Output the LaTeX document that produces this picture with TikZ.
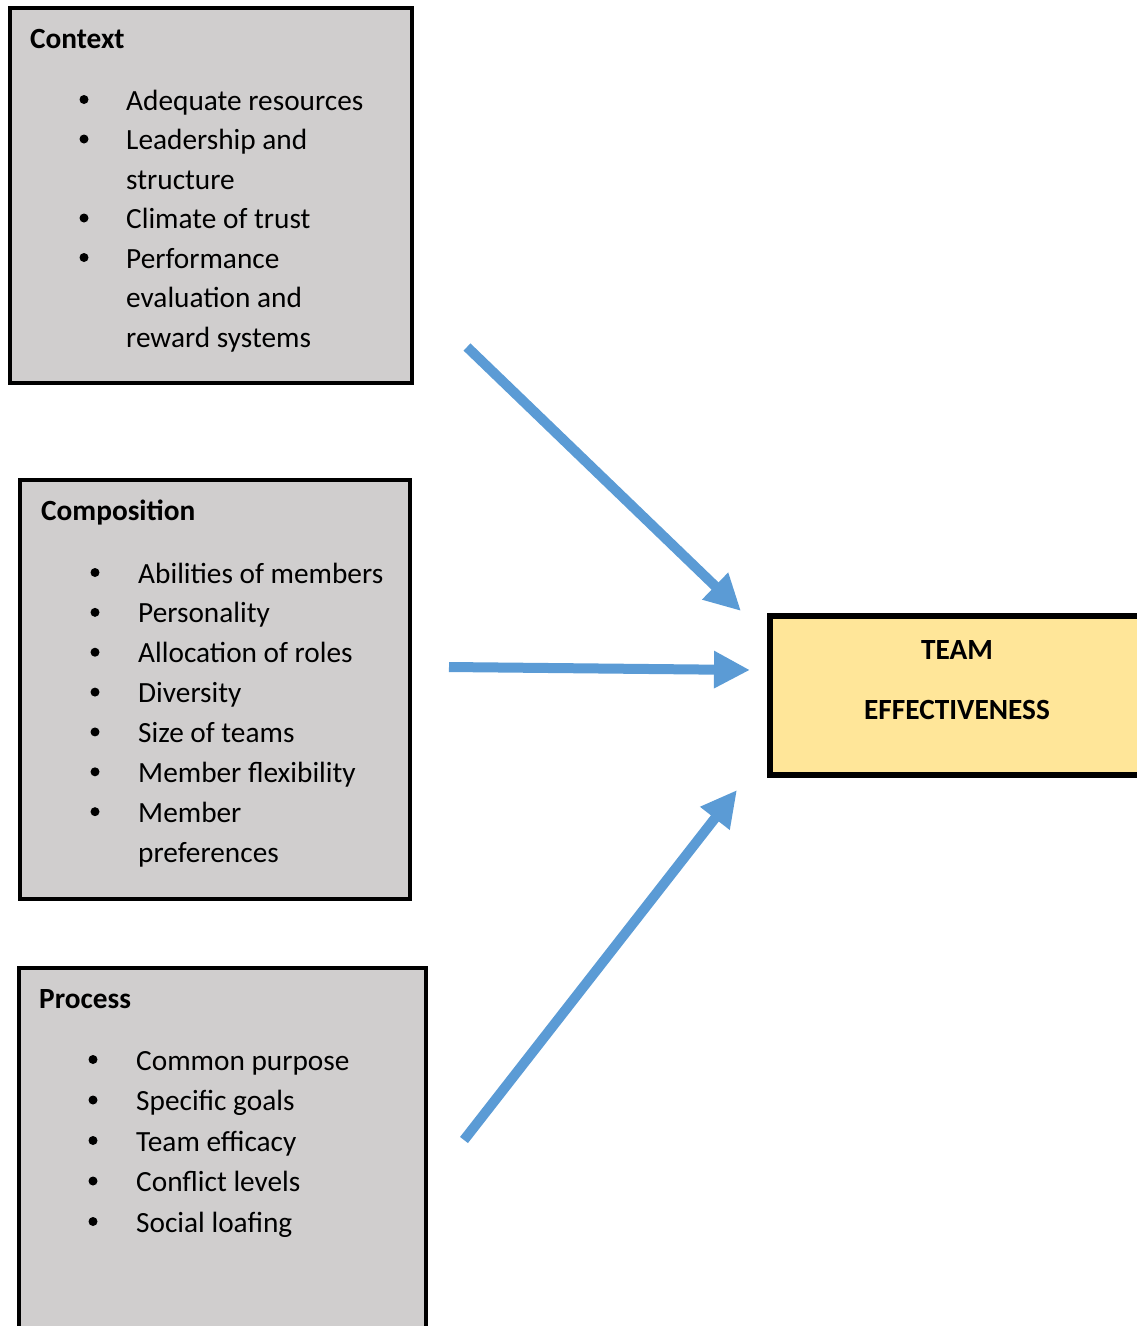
\documentclass[tikz,border=0pt]{standalone}
\usepackage{fontspec}
\setmainfont{Carlito}
\usetikzlibrary{arrows.meta}
\definecolor{boxgray}{HTML}{D0CECE}
\definecolor{teamfill}{HTML}{FFE699}
\definecolor{arrowblue}{HTML}{5B9BD5}
\begin{document}
\begin{tikzpicture}[x=1pt,y=-1pt,
  panel/.style={draw=black,line width=3.5pt,fill=boxgray,inner sep=0,outer sep=0,anchor=north west},
  goalbox/.style={draw=black,line width=6pt,fill=teamfill,inner sep=0,outer sep=0,anchor=north west},
  heading/.style={anchor=base west,inner sep=0,font=\fontsize{29.3}{35}\selectfont\bfseries},
  item/.style={anchor=base west,inner sep=0,font=\fontsize{29.3}{35}\selectfont},
  goaltext/.style={anchor=base,inner sep=0,font=\fontsize{29.3}{35}\selectfont\bfseries},
  dot/.style={circle,fill=black,inner sep=0,minimum size=9pt},
  flow/.style={arrowblue,line width=10pt,-{Triangle[width=35pt,length=36pt]}}]
\clip (0,0) rectangle (1137,1326);
\useasboundingbox (0,0) rectangle (1137,1326);

% the three input panels and the outcome box
\node[panel,minimum width=402pt,minimum height=375pt] (context) at (10,8) {};
\node[panel,minimum width=390pt,minimum height=419pt] (composition) at (20,480) {};
\node[panel,minimum width=407pt,minimum height=400pt] (process) at (19,968) {};
\node[goalbox,minimum width=400pt,minimum height=159pt] (team) at (770,616) {};

% Context
\node[heading] (ctx-title) at (30,48) {Context};
\foreach \t [count=\i from 0] in {Adequate resources,Leadership and,structure,Climate of trust,Performance,evaluation and,reward systems}
  \node[item] (ctx-\i) at (126,110+39.5*\i) {\t};
\foreach \k in {0,1,3,4}
  \node[dot] (ctxb-\k) at (84,99.5+39.5*\k) {};

% Composition
\node[heading] (cmp-title) at (41,520) {Composition};
\foreach \t [count=\i from 0] in {Abilities of members,Personality,Allocation of roles,Diversity,Size of teams,Member flexibility,Member,preferences}
  \node[item] (cmp-\i) at (138,583+39.86*\i) {\t};
\foreach \k in {0,...,6}
  \node[dot] (cmpb-\k) at (95,572.5+39.86*\k) {};

% Process
\node[heading] (prc-title) at (39,1008) {Process};
\foreach \t [count=\i from 0] in {Common purpose,Specific goals,Team efficacy,Conflict levels,Social loafing}
  \node[item] (prc-\i) at (136,1070+40.5*\i) {\t};
\foreach \k in {0,...,4}
  \node[dot] (prcb-\k) at (93,1059.5+40.5*\k) {};

% Team effectiveness
\node[goaltext] (team-1) at (957,659.5) {TEAM};
\node[goaltext] (team-2) at (957,719.5) {EFFECTIVENESS};

% arrows into the outcome box
\coordinate (a1s) at (467,347);
\coordinate (a1e) at (741,611);
\coordinate (a2s) at (449,667);
\coordinate (a2e) at (750,670);
\coordinate (a3s) at (464,1140);
\coordinate (a3e) at (737,790);
\draw[flow] (a1s) -- (a1e);
\draw[flow] (a2s) -- (a2e);
\draw[flow] (a3s) -- (a3e);
\end{tikzpicture}
\end{document}
